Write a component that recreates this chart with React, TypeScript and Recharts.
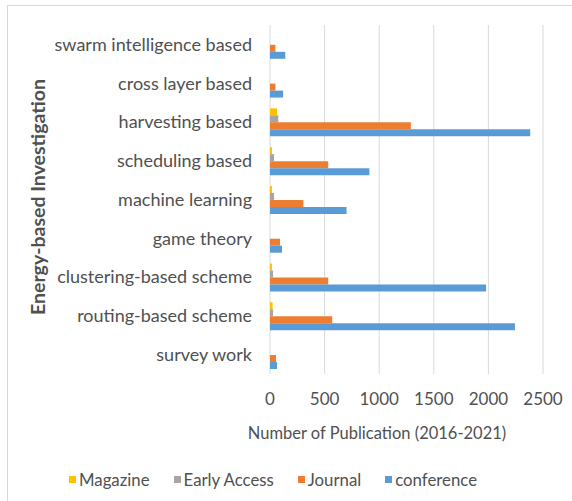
import React from 'react'
import {
  BarChart,
  Bar,
  XAxis,
  YAxis,
  CartesianGrid,
  Legend,
} from 'recharts'

const categories = [
  'swarm intelligence based',
  'cross layer based',
  'harvesting based',
  'scheduling based',
  'machine learning',
  'game theory',
  'clustering-based scheme',
  'routing-based scheme',
  'survey work',
]

const magazine = [0, 0, 65, 18, 18, 0, 18, 24, 0]
const earlyAccess = [0, 0, 76, 37, 37, 0, 28, 28, 0]
const journal = [50, 50, 1290, 533, 306, 92, 533, 570, 55]
const conference = [140, 120, 2383, 910, 701, 110, 1979, 2243, 64]

const xTicks = [0, 500, 1000, 1500, 2000, 2500]

const seriesNames = ['Magazine', 'Early Access', 'Journal', 'conference']
const seriesColors = ['#FFC000', '#A5A5A5', '#ED7D31', '#5B9BD5']

const FONT = 'Lato, "Open Sans", sans-serif'
const TEXT = '#505050'

const data = categories.map((name, i) => ({
  name,
  magazine: magazine[i],
  earlyAccess: earlyAccess[i],
  journal: journal[i],
  conference: conference[i],
}))

const keys = ['magazine', 'earlyAccess', 'journal', 'conference']

const LegendContent = () => (
  <div
    style={{
      display: 'flex',
      justifyContent: 'center',
      alignItems: 'center',
      fontFamily: FONT,
      fontSize: 16.8,
      color: TEXT,
      height: 30,
    }}
  >
    {seriesNames.map((n, i) => (
      <span key={n} style={{ display: 'flex', alignItems: 'center', marginRight: i < 3 ? 24 : 0 }}>
        <span style={{ width: 7, height: 7, background: seriesColors[i], marginRight: 3, display: 'inline-block' }} />
        {n}
      </span>
    ))}
  </div>
)

export default function App() {
  return (
    <div style={{ position: 'absolute', left: 0, top: 0, width: 572, height: 501, background: '#fff' }}>
      <div
        style={{
          position: 'absolute',
          left: 7,
          top: 5,
          width: 570,
          height: 500,
          borderLeft: '1px solid #d9d9d9',
          borderTop: '1px solid #d9d9d9',
        }}
      />
      <BarChart
        width={572}
        height={501}
        data={data}
        layout="vertical"
        margin={{ top: 25, right: 29, left: 8, bottom: 7 }}
        barCategoryGap="15%"
        barGap={0}
        style={{ position: 'absolute', left: 0, top: 0 }}
      >
        <CartesianGrid horizontal={false} stroke="#d9d9d9" strokeWidth={1} />
        <XAxis
          type="number"
          domain={[0, 2500]}
          ticks={xTicks}
          axisLine={false}
          tickLine={false}
          tickSize={0}
          tickMargin={19}
          height={90}
          tick={{ fill: TEXT, fontSize: 17, fontFamily: FONT }}
          label={() => (
            <text
              x={377}
              y={433}
              dy="0.35em"
              textAnchor="middle"
              fill={TEXT}
              fontSize={16.5}
              fontFamily={FONT}
            >
              Number of Publication (2016-2021)
            </text>
          )}
        />
        <YAxis
          type="category"
          dataKey="name"
          width={262}
          axisLine={false}
          tickLine={false}
          tickSize={0}
          tickMargin={18}
          interval={0}
          tick={{ fill: TEXT, fontSize: 18, fontFamily: FONT }}
          label={() => (
            <text
              x={38}
              y={197}
              dy="0.35em"
              textAnchor="middle"
              transform="rotate(-90 38 197)"
              fill={TEXT}
              fontSize={19.5}
              fontWeight="bold"
              fontFamily={FONT}
            >
              Energy-based Investigation
            </text>
          )}
        />
        <Legend verticalAlign="bottom" content={<LegendContent />} wrapperStyle={{ left: 0, width: 546 }} />
        {keys.map((k, i) => (
          <Bar key={k} dataKey={k} name={seriesNames[i]} fill={seriesColors[i]} isAnimationActive={false} />
        ))}
      </BarChart>
    </div>
  )
}
